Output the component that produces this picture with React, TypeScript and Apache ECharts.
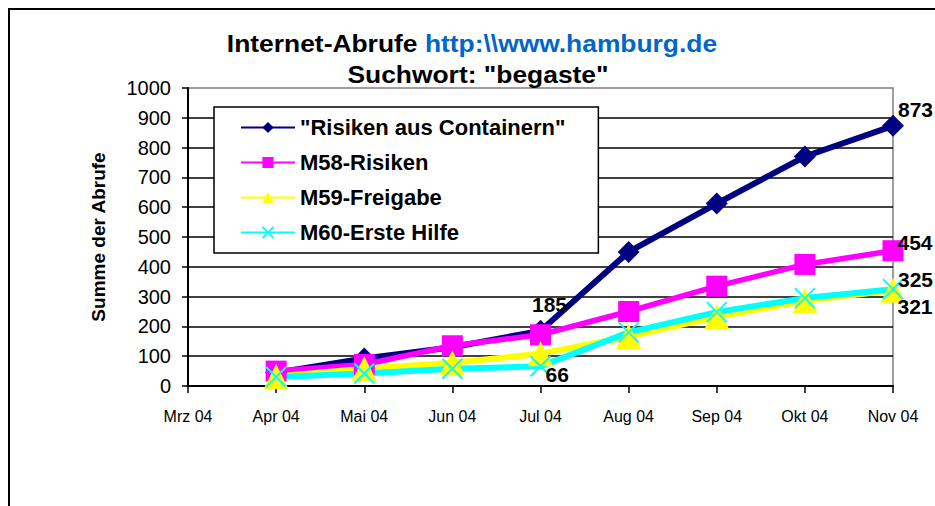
import React, { useEffect, useRef } from 'react';
import * as echarts from 'echarts';

const months = ['Mrz 04', 'Apr 04', 'Mai 04', 'Jun 04', 'Jul 04', 'Aug 04', 'Sep 04', 'Okt 04', 'Nov 04'];
const seriesNames = ['"Risiken aus Containern"', 'M58-Risiken', 'M59-Freigabe', 'M60-Erste Hilfe'];
const containern = [null, 45, 92, 130, 185, 450, 612, 770, 873];
const m58 = [null, 50, 72, 135, 172, 250, 335, 408, 454];
const m59 = [null, 32, 58, 78, 108, 166, 232, 286, 321];
const m60 = [null, 30, 42, 58, 66, 180, 248, 295, 325];
const titleMain = 'Internet-Abrufe ';
const titleLink = 'http:\\\\www.hamburg.de';
const titleSub = 'Suchwort: "begaste"';
const yAxisName = 'Summe der Abrufe';

const FONT = '"Liberation Sans", Arial, Helvetica, sans-serif';

const labelBase = {
  show: true,
  fontSize: 21,
  fontWeight: 'bold',
  color: '#000',
  fontFamily: FONT,
};

function withLabels(values: (number | null)[], labels: Record<number, any>) {
  return values.map((v, i) =>
    labels[i] ? { value: v, label: { ...labelBase, ...labels[i] } } : v
  );
}

export default function App() {
  const ref = useRef<HTMLDivElement>(null);
  useEffect(() => {
    if (!ref.current) return;
    const chart = echarts.init(ref.current, null, { renderer: 'svg' });
    const option: any = {
      animation: false,
      backgroundColor: '#fff',
      textStyle: { fontFamily: FONT },
      graphic: [
        {
          type: 'rect',
          shape: { x: 9, y: 9, width: 940, height: 510 },
          style: { fill: 'none', stroke: '#000', lineWidth: 2 },
          z: 100,
        },
        {
          type: 'text',
          x: 472,
          y: 43,
          scaleX: 1.1,
          style: {
            text: '{a|' + titleMain + '}{b|' + titleLink + '}',
            align: 'center',
            verticalAlign: 'middle',
            rich: {
              a: { fontSize: 24, fontWeight: 'bold', fill: '#000', fontFamily: FONT },
              b: { fontSize: 24, fontWeight: 'bold', fill: '#0066CC', fontFamily: FONT },
            },
          },
        },
        {
          type: 'text',
          x: 478,
          y: 74,
          scaleX: 1.1,
          style: {
            text: titleSub,
            fontSize: 24,
            fontWeight: 'bold',
            fontFamily: FONT,
            fill: '#000',
            align: 'center',
            verticalAlign: 'middle',
          },
        },
      ],
      grid: {
        left: 188,
        right: 42,
        top: 88,
        bottom: 120,
        show: true,
        borderColor: '#808080',
        borderWidth: 1.5,
      },
      legend: {
        data: seriesNames,
        orient: 'vertical',
        left: 214,
        top: 107,
        itemWidth: 54,
        itemHeight: 14,
        itemGap: 10,
        padding: [8, 33, 8, 26],
        backgroundColor: '#fff',
        borderColor: '#000',
        borderWidth: 1.5,
        textStyle: { fontSize: 22, fontWeight: 'bold', color: '#000', lineHeight: 25, fontFamily: FONT },
      },
      xAxis: {
        type: 'category',
        data: months,
        boundaryGap: false,
        axisLine: { lineStyle: { color: '#000', width: 2 } },
        axisTick: { show: true, length: 7, lineStyle: { color: '#000', width: 1.5 } },
        axisLabel: { interval: 0, margin: 22, fontSize: 16, color: '#000', fontFamily: FONT },
        splitLine: { show: false },
      },
      yAxis: {
        type: 'value',
        min: 0,
        max: 1000,
        interval: 100,
        name: yAxisName,
        nameLocation: 'middle',
        nameGap: 80,
        nameTextStyle: { fontSize: 19, fontWeight: 'bold', color: '#000', fontFamily: FONT },
        axisLine: { show: true, lineStyle: { color: '#000', width: 2 } },
        axisTick: { show: true, length: 6, lineStyle: { color: '#000', width: 1.5 } },
        axisLabel: {
          margin: 17,
          fontSize: 20,
          color: '#000',
          fontFamily: FONT,
          formatter: (v: number) => String(v),
        },
        splitLine: { show: true, showMaxLine: false, lineStyle: { color: '#000', width: 1.5 } },
      },
      series: [
        {
          name: seriesNames[0],
          type: 'line',
          data: withLabels(containern, {
            4: { position: 'top', distance: 5, offset: [9, 0] },
            8: { position: 'right', distance: 0, offset: [-6, -16] },
          }),
          symbol: 'diamond',
          symbolSize: 22,
          lineStyle: { color: '#000080', width: 6 },
          itemStyle: { color: '#000080' },
        },
        {
          name: seriesNames[1],
          type: 'line',
          data: withLabels(m58, {
            8: { position: 'right', distance: 0, offset: [-6, -8] },
          }),
          symbol: 'rect',
          symbolSize: 21,
          lineStyle: { color: '#FF00FF', width: 5.5 },
          itemStyle: { color: '#FF00FF' },
        },
        {
          name: seriesNames[2],
          type: 'line',
          data: withLabels(m59, {
            8: { position: 'right', distance: 0, offset: [-8, 16] },
          }),
          symbol: 'triangle',
          symbolSize: 25,
          lineStyle: { color: '#FFFF00', width: 6 },
          itemStyle: { color: '#FFFF00' },
        },
        {
          name: seriesNames[3],
          type: 'line',
          data: withLabels(m60, {
            4: { position: 'right', distance: 0, offset: [-6, 8] },
            8: { position: 'right', distance: 0, offset: [-6, -10] },
          }),
          symbol: 'path://M0,0L10,10M10,0L0,10',
          symbolSize: 20,
          lineStyle: { color: '#00FFFF', width: 6 },
          itemStyle: { color: '#00FFFF', borderColor: '#00FFFF', borderWidth: 2 },
        },
      ],
    };
    chart.setOption(option);
    return () => chart.dispose();
  }, []);
  return (
    <div
      ref={ref}
      style={{ position: 'fixed', left: 0, top: 0, width: 935, height: 506 }}
    />
  );
}
